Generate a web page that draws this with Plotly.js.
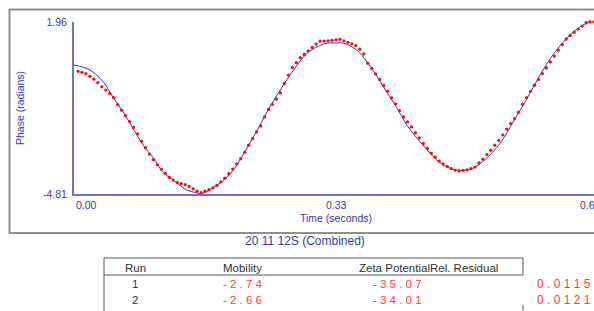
<!DOCTYPE html>
<html>
<head>
<meta charset="utf-8">
<script src="https://cdn.plot.ly/plotly-3.0.1.min.js"></script>
<style>
html,body{margin:0;padding:0;overflow:hidden;background:#fff;}
#chart{width:620px;height:311px;}
</style>
</head>
<body>
<div id="chart"></div>
<script>
// Measured phase (red dots)
const time = [0.005,0.010,0.015,0.020,0.025,0.030,0.035,0.040,0.045,0.050,
0.055,0.060,0.065,0.070,0.075,0.080,0.085,0.090,0.095,0.100,
0.105,0.110,0.115,0.120,0.125,0.130,0.135,0.140,0.145,0.150,
0.155,0.160,0.165,0.170,0.175,0.180,0.185,0.190,0.195,0.200,
0.205,0.210,0.215,0.220,0.225,0.230,0.235,0.240,0.245,0.250,
0.255,0.260,0.265,0.270,0.275,0.280,0.285,0.290,0.295,0.300,
0.305,0.310,0.315,0.320,0.325,0.330,0.335,0.340,0.345,0.350,
0.355,0.360,0.365,0.370,0.375,0.380,0.385,0.390,0.395,0.400,
0.405,0.410,0.415,0.420,0.425,0.430,0.435,0.440,0.445,0.450,
0.455,0.460,0.465,0.470,0.475,0.480,0.485,0.490,0.495,0.500,
0.505,0.510,0.515,0.520,0.525,0.530,0.535,0.540,0.545,0.550,
0.555,0.560,0.565,0.570,0.575,0.580,0.585,0.590,0.595,0.600,
0.605,0.610,0.615,0.620,0.625,0.630,0.635,0.640,0.645,0.650,
0.655];
const phase = [0.02,-0.02,-0.07,-0.18,-0.29,-0.43,-0.59,-0.72,-0.85,-1.02,
-1.29,-1.51,-1.73,-1.96,-2.19,-2.44,-2.73,-2.99,-3.24,-3.46,
-3.66,-3.83,-4.00,-4.15,-4.26,-4.36,-4.40,-4.44,-4.51,-4.61,
-4.70,-4.76,-4.70,-4.64,-4.57,-4.47,-4.33,-4.19,-4.01,-3.83,
-3.63,-3.42,-3.17,-2.89,-2.63,-2.37,-2.13,-1.78,-1.48,-1.28,
-1.07,-0.83,-0.46,-0.13,0.17,0.36,0.56,0.68,0.82,0.96,
1.09,1.21,1.21,1.22,1.24,1.26,1.28,1.22,1.16,1.10,
1.03,0.89,0.70,0.34,0.13,-0.08,-0.30,-0.54,-0.77,-1.03,
-1.26,-1.53,-1.78,-1.97,-2.17,-2.40,-2.60,-2.82,-3.02,-3.21,
-3.36,-3.52,-3.63,-3.72,-3.81,-3.87,-3.90,-3.88,-3.86,-3.81,
-3.75,-3.59,-3.44,-3.26,-3.09,-2.89,-2.70,-2.48,-2.26,-2.04,
-1.84,-1.59,-1.28,-1.02,-0.77,-0.53,-0.30,-0.07,0.15,0.39,
0.62,0.85,1.07,1.29,1.43,1.56,1.68,1.80,1.93,1.96,
1.96];

// Fitted phase (blue line)
const fitTime = [0,0.020,0.037,0.049,0.062,0.074,0.087,0.100,0.112,0.130,0.142,0.155,0.159,0.175,0.193,0.205,0.218,0.231,0.243,0.256,0.268,0.281,0.294,0.306,0.319,0.329,0.339,0.356,0.369,0.382,0.394,0.407,0.419,0.432,0.445,0.457,0.470,0.483,0.493,0.503,0.520,0.537,0.553,0.571,0.587,0.603,0.621,0.637,0.650,0.655];
const fitPhase = [0.27,0.07,-0.40,-0.99,-1.58,-2.21,-2.88,-3.39,-3.94,-4.38,-4.65,-4.77,-4.81,-4.57,-4.14,-3.67,-3.00,-2.29,-1.58,-0.91,-0.32,0.27,0.74,0.98,1.13,1.13,1.13,0.86,0.39,-0.20,-0.80,-1.43,-2.09,-2.61,-3.08,-3.47,-3.75,-3.87,-3.87,-3.79,-3.39,-2.80,-1.98,-1.03,-0.13,0.66,1.33,1.76,1.96,1.96];

// Axis ticks
const yTickVals = [-4.81, 1.96];
const yTickText = ['-4.81', '1.96'];
const xTickVals = [0, 0.33, 0.66];
const xTickText = ['0.00', '0.33', '0.66'];

// Table
const tableHeaders = ['Run', 'Mobility', 'Zeta PotentialRel. Residual'];
const runs = ['1', '2'];
const mobility = ['-2.74', '-2.66'];
const zeta = ['-35.07', '-34.01'];
const residual = ['0.0115', '0.0121'];
const chartTitle = '20 11 12S (Combined)';

// pixel -> paper helpers (layout positions only)
const L = 74, PW = 524, T = 22, PH = 172;
const px = x => (x - L) / PW;
const py = y => (T + PH - y) / PH;
const spaced = s => s.split('').join(' ');

const FONT = 'Liberation Sans, Arial, sans-serif';
const BLUE_TXT = '#3b3ba3';
const AXIS = '#7373c6';

const traces = [
  {x: fitTime, y: fitPhase, type: 'scatter', mode: 'lines',
   line: {color: '#3535b5', width: 1, shape: 'spline', smoothing: 1}, hoverinfo: 'skip'},
  {x: time, y: phase, type: 'scatter', mode: 'markers', cliponaxis: false,
   marker: {color: '#f01010', size: 3.3}, hoverinfo: 'skip'}
];

const ann = [];
const anchors = ['left', 'center', 'right'];
const shifts = [0, 0, 5];
xTickVals.forEach((v, i) => ann.push({x: v, xref: 'x', y: py(205), yref: 'paper', text: xTickText[i], xshift: shifts[i],
  showarrow: false, xanchor: anchors[i], yanchor: 'middle', font: {family: FONT, size: 10.5, color: BLUE_TXT}}));
ann.push({x: 0.33, xref: 'x', y: py(218), yref: 'paper', text: 'Time (seconds)', showarrow: false,
  xanchor: 'center', yanchor: 'middle', font: {family: FONT, size: 10.5, color: BLUE_TXT}});
ann.push({x: px(20), xref: 'paper', y: py(108), yref: 'paper', text: 'Phase (radians)', textangle: -90,
  showarrow: false, xanchor: 'center', yanchor: 'middle', font: {family: FONT, size: 10.5, color: BLUE_TXT}});
ann.push({x: px(305), xref: 'paper', y: py(241), yref: 'paper', text: chartTitle, showarrow: false,
  xanchor: 'center', yanchor: 'middle', font: {family: FONT, size: 12, color: BLUE_TXT}});

const headX = [135, 242, 428];
tableHeaders.forEach((h, i) => ann.push({x: px(headX[i]), xref: 'paper', y: py(267.5), yref: 'paper', text: h,
  showarrow: false, xanchor: 'center', yanchor: 'middle', font: {family: FONT, size: 11.5, color: '#333'}}));
const rowY = [284, 299.5];
runs.forEach((r, i) => {
  ann.push({x: px(135), xref: 'paper', y: py(rowY[i]), yref: 'paper', text: r, showarrow: false,
    xanchor: 'center', yanchor: 'middle', font: {family: FONT, size: 11.5, color: '#333'}});
  ann.push({x: px(242.5), xref: 'paper', y: py(rowY[i]), yref: 'paper', text: spaced(mobility[i]), showarrow: false,
    xanchor: 'center', yanchor: 'middle', font: {family: FONT, size: 11.5, color: '#ff3b3b'}});
  ann.push({x: px(397.5), xref: 'paper', y: py(rowY[i]), yref: 'paper', text: spaced(zeta[i]), showarrow: false,
    xanchor: 'center', yanchor: 'middle', font: {family: FONT, size: 11.5, color: '#ff3b3b'}});
  ann.push({x: px(564), xref: 'paper', y: py(rowY[i]), yref: 'paper', text: spaced(residual[i]), showarrow: false,
    xanchor: 'center', yanchor: 'middle', font: {family: FONT, size: 12, color: '#ff3b3b'}});
});

const line = (x0, y0, x1, y1, color, w) => ({type: 'line', xref: 'paper', yref: 'paper',
  x0: px(x0), y0: py(y0), x1: px(x1), y1: py(y1), line: {color: color, width: w}});
const shapes = [
  {type: 'rect', xref: 'paper', yref: 'paper', x0: px(9.5), y0: py(9.5), x1: px(615), y1: py(233),
   line: {color: '#8f8f8f', width: 2}, layer: 'below'},
  line(104, 258, 523, 258, '#555', 1),
  line(104, 275, 523, 275, '#555', 1),
  line(104, 258, 104, 312, '#555', 1),
  line(523, 258, 523, 275, '#555', 1),
  line(523, 305, 523, 312, '#555', 1)
];

const layout = {
  width: 620, height: 311,
  margin: {l: L, r: 620 - L - PW, t: T, b: 311 - T - PH, pad: 0},
  paper_bgcolor: '#fff', plot_bgcolor: '#fff',
  showlegend: false,
  xaxis: {range: [0, 0.66], showgrid: false, zeroline: false, showline: true, linecolor: AXIS, linewidth: 2,
    showticklabels: false, ticks: '', fixedrange: true},
  yaxis: {range: [-4.81, 1.96], showgrid: false, zeroline: false, showline: true, linecolor: AXIS, linewidth: 2,
    tickvals: yTickVals, ticktext: yTickText, ticks: 'inside', ticklen: 4, tickcolor: AXIS, tickwidth: 1,
    ticklabelstandoff: 3, tickfont: {family: FONT, size: 10.5, color: BLUE_TXT}, fixedrange: true},
  annotations: ann,
  shapes: shapes
};

Plotly.newPlot('chart', traces, layout, {staticPlot: true, displayModeBar: false});
</script>
</body>
</html>
